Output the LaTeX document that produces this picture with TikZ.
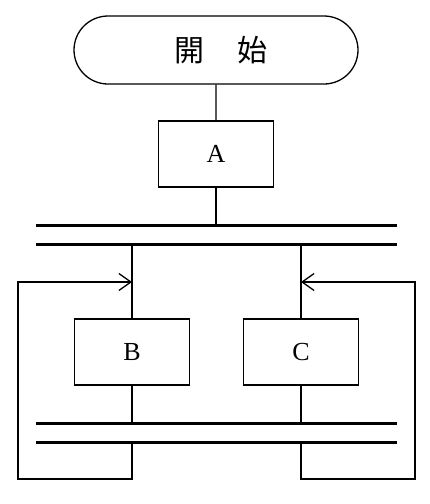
\documentclass[tikz,border=0pt]{standalone}
\usepackage{fontspec}
\setmainfont{Liberation Serif}
\newfontfamily\cjk{Noto Sans CJK JP}
\usetikzlibrary{arrows.meta,shapes.misc}

\tikzset{
  procbox/.style={draw,minimum width=115pt,minimum height=66pt,inner sep=0pt,
    font=\fontsize{26}{30}\selectfont},
  bar/.style={line width=3pt},
  loopback/.style={-{Straight Barb[length=12pt,width=17pt,line width=1.3pt]}}
}

\begin{document}
\begin{tikzpicture}[x=1pt,y=-1pt,line width=1.3pt]
      \useasboundingbox (0,0) rectangle (430,504);

      \node [draw,rounded rectangle,minimum width=284pt,minimum height=68pt,inner sep=0pt,
        font=\fontsize{30}{34}\selectfont] (start) at (216,50)
        {\cjk\hspace*{9pt}開\hspace{33pt}始};
      \node [procbox] (A) at (216,154) {A};
      \node [procbox] (B) at (132,352) {B};
      \node [procbox] (C) at (301,352) {C};

      % bars
      \coordinate (bar1l) at (36,225);  \coordinate (bar1r) at (397,225);
      \coordinate (bar2l) at (36,244);  \coordinate (bar2r) at (397,244);
      \coordinate (bar3l) at (36,423);  \coordinate (bar3r) at (397,423);
      \coordinate (bar4l) at (36,442);  \coordinate (bar4r) at (397,442);
      \draw [bar] (bar1l) -- (bar1r);
      \draw [bar] (bar2l) -- (bar2r);
      \draw [bar] (bar3l) -- (bar3r);
      \draw [bar] (bar4l) -- (bar4r);

      \draw (start) -- (A);
      \draw (A) -- (A |- bar1l);
      \draw (B |- bar2l) -- (B);
      \draw (C |- bar2l) -- (C);
      \draw (B) -- (B |- bar3l);
      \draw (C) -- (C |- bar3l);

      % loops
      \coordinate (lturn) at (18,479);  \coordinate (lback) at (18,282);
      \coordinate (rturn) at (415,479); \coordinate (rback) at (415,282);
      \draw [loopback] (B |- bar4l) |- (lturn) -- (lback) -- (B |- lback);
      \draw [loopback] (C |- bar4l) |- (rturn) -- (rback) -- (C |- rback);
    \end{tikzpicture}
\end{document}
